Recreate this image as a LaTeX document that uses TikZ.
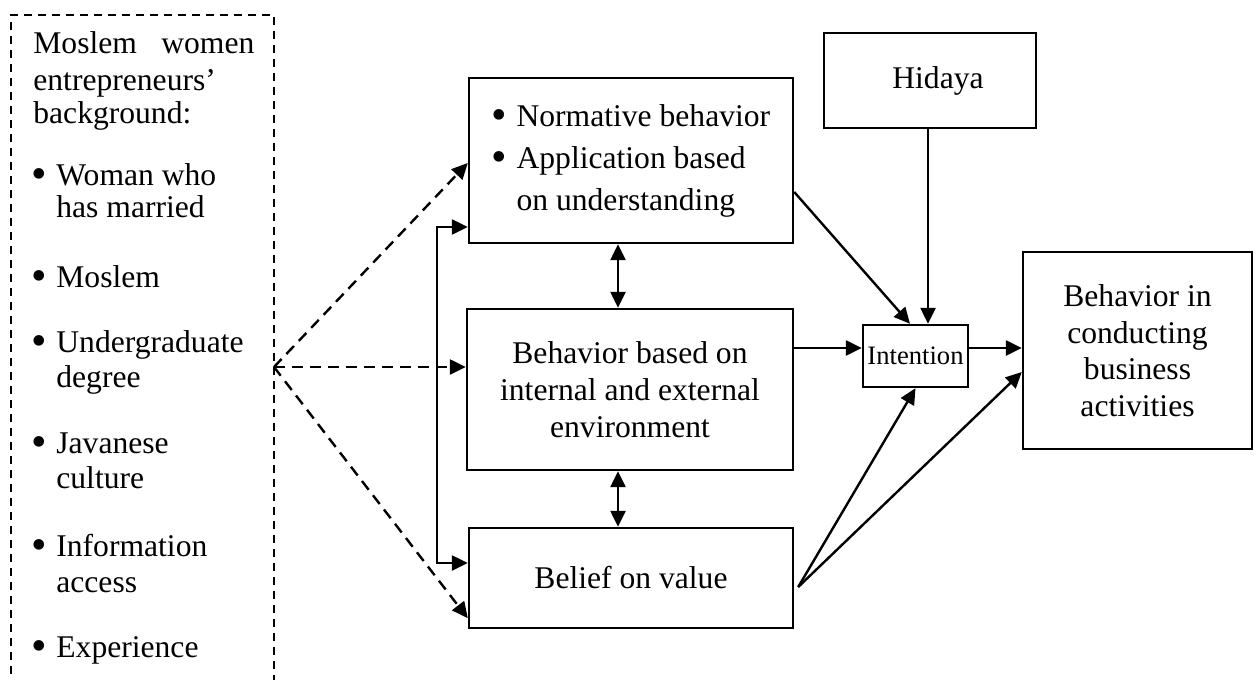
\documentclass[tikz,border=0pt]{standalone}
\usepackage{fontspec}
\usepackage{graphicx}
\setmainfont{Liberation Serif}
\usetikzlibrary{arrows.meta,calc}
\newcommand\mfs{\fontsize{15.8pt}{18.5pt}\selectfont}
\newcommand\bigbul{\raisebox{-1.6pt}{\scalebox{1.4}{\textbullet}}}
\newcommand\bul{\llap{\bigbul\hspace{4.65pt}}}
\tikzset{
  box/.style={draw, line width=1.2pt, inner sep=0pt, align=center, font=\mfs},
  lbox/.style={draw, line width=1.1pt, dash pattern=on 4pt off 3pt, inner sep=0pt},
  tip/.tip={Triangle[length=8pt,width=7.5pt]},
  arr/.style={line width=1.2pt, -tip},
  darr/.style={line width=1.2pt, tip-tip},
  dasharr/.style={arr, dash pattern=on 5.5pt off 3.5pt},
  ltext/.style={anchor=base west, inner sep=0pt, font=\mfs},
}
\begin{document}
\begin{tikzpicture}[x=0.5pt,y=-0.5pt]
\useasboundingbox (0,0) rectangle (1256,679);
\clip (0,0) rectangle (1256,679);
% left dashed box
\node[lbox, minimum width=131.5pt, minimum height=342.5pt] (bg) at (142.5,357.5) {};
\foreach \t/\y [count=\i] in {{\makebox[110.5pt][s]{Moslem women}}/54, {entrepreneurs'}/91, {background:}/124}
  \node[ltext] (h\i) at (33,\y) {\t};
\foreach \t/\y [count=\i] in {{\bul Woman who}/185, {has married}/218, {\bul Moslem}/287, {\bul Undergraduate}/352, {degree}/387, {\bul Javanese}/453, {culture}/488, {\bul Information}/556, {access}/592, {\bul Experience}/657}
  \node[ltext] (it\i) at (56,\y) {\t};
\coordinate (apex) at (274,367);
% boxes
\node[box, align=left, font={\fontsize{15.8pt}{21pt}\selectfont}, minimum width=162pt, minimum height=82.5pt] (top) at (631,160.5)
  {\bigbul\hspace{4.65pt}Normative behavior\\ \bigbul\hspace{4.65pt}Application based\\ \hphantom{\bigbul\hspace{4.65pt}}on understanding};
\node[box, minimum width=163pt, minimum height=80.5pt] (mid) at (630,389.5)
  {Behavior based on\\ internal and external\\ environment};
\node[box, minimum width=162pt, minimum height=50pt] (bel) at (631,578) {Belief on value};
\node[box, minimum width=106pt, minimum height=47.5pt] (hid) at (930,80.5) {\hspace{8pt}Hidaya};
\node[box, font={\fontsize{13.3pt}{15pt}\selectfont}, minimum width=52.5pt, minimum height=31pt] (int) at (915.5,356) {Intention};
\node[box, font={\fontsize{15.8pt}{18.3pt}\selectfont}, minimum width=114.5pt, minimum height=98.5pt] (beh) at (1137.5,350.5)
  {Behavior in\\ conducting\\ business\\ activities};
% dashed connectors
\draw[dasharr] (apex) -- ([yshift=-1.25pt]top.west);
\draw[dasharr] (apex) -- (apex -| mid.west);
\draw[dasharr] (apex) -- ([yshift=5.5pt]bel.south west);
% bracket
\coordinate (bt) at (437,227);
\coordinate (bb) at (437,563);
\draw[darr] (bt -| top.west) -- (bt) -- (bb) -- (bb -| bel.west);
% double arrows
\coordinate (d1) at ([xshift=-6.5pt]top.south);
\draw[darr] (d1) -- (d1 |- mid.north);
\coordinate (d2) at ([xshift=-6pt]mid.south);
\draw[darr] (d2) -- (d2 |- bel.north);
% to intention
\draw[arr] ([yshift=-15.75pt]top.east) -- ([xshift=-2.75pt]int.north);
\draw[arr] ([xshift=-1pt]hid.south) -- ([xshift=-1pt]hid.south |- int.north);
\coordinate (iw) at ([yshift=4pt]int.west);
\draw[arr] (iw -| mid.east) -- (iw);
\draw[arr] (iw -| int.east) -- (iw -| beh.west);
\coordinate (bs) at ([xshift=2pt,yshift=-4.5pt]bel.east);
\draw[arr] (bs) -- (int.south);
\draw[arr] (bs) -- ([yshift=-10.75pt]beh.west);
\end{tikzpicture}
\end{document}
